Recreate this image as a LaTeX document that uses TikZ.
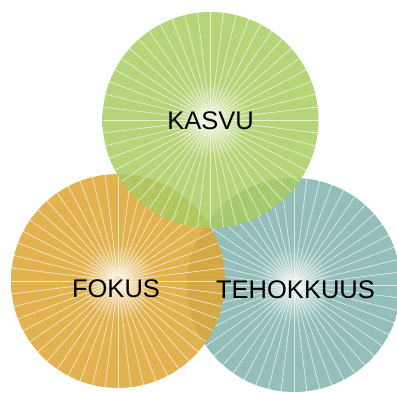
\documentclass[tikz,border=0pt]{standalone}
\usepackage{fontspec}
\setmainfont{Liberation Sans}
\usetikzlibrary{calc}

\definecolor{kasvugreen}{RGB}{169,204,96}
\definecolor{fokusorange}{RGB}{221,164,47}
\definecolor{tehoteal}{RGB}{129,179,173}

\pgfdeclareradialshading{kasvuglow}{\pgfpointorigin}{color(0bp)=(white!70!kasvugreen); color(9bp)=(kasvugreen); color(50bp)=(kasvugreen)}
\pgfdeclareradialshading{fokusglow}{\pgfpointorigin}{color(0bp)=(white!70!fokusorange); color(9bp)=(fokusorange); color(50bp)=(fokusorange)}
\pgfdeclareradialshading{tehoglow}{\pgfpointorigin}{color(0bp)=(white!70!tehoteal); color(9bp)=(tehoteal); color(50bp)=(tehoteal)}

\begin{document}
\begin{tikzpicture}[x=1pt,y=1pt]
\tikzset{
	petal/.style = {fill opacity = 0.85},
	ray/.style = {draw = white, opacity = 0.68, line width = 0.75pt},
	label node/.style = {font = \fontsize{25.5}{30}\selectfont, text = black},
}

\useasboundingbox (0,0) rectangle (397,392);

\coordinate (t) at (294,107);
\coordinate (o) at (118,111);
\coordinate (g) at (210.5,272);

% teal circle
\shade[shading = tehoglow, petal] (t) circle (107);
\begin{scope}
	\clip (t) circle (107);
	\foreach \a in {0,...,51} \draw[ray] ($(t)+(90+\a*6.9231:5)$) -- ++(90+\a*6.9231:110);
\end{scope}

% orange circle
\shade[shading = fokusglow, petal] (o) circle (107);
\begin{scope}
	\clip (o) circle (107);
	\foreach \a in {0,...,51} \draw[ray] ($(o)+(90+\a*6.9231:5)$) -- ++(90+\a*6.9231:110);
\end{scope}

% green circle
\shade[shading = kasvuglow, petal] (g) circle (108);
\begin{scope}
	\clip (g) circle (108);
	\foreach \a in {0,...,51} \draw[ray] ($(g)+(90+\a*6.9231:5)$) -- ++(90+\a*6.9231:110);
\end{scope}

\node[label node] (kasvu) at (210.5,271.5) {KASVU};
\node[label node] (fokus) at (116,103) {FOKUS};
\node[label node] (tehokkuus) at (295.5,102.5) {TEHOKKUUS};

\end{tikzpicture}
\end{document}
